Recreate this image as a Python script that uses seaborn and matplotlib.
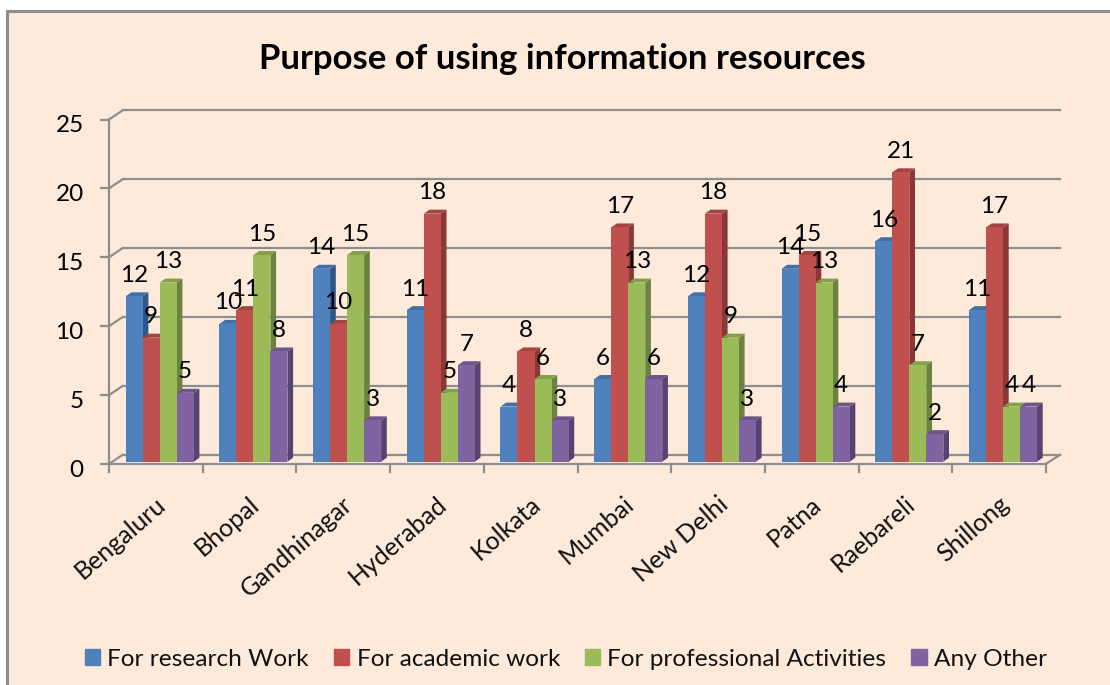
import pandas as pd
import seaborn as sns
import matplotlib.pyplot as plt
from matplotlib.patches import Patch, Polygon, Rectangle
from matplotlib.transforms import Affine2D

cities = ['Bengaluru', 'Bhopal', 'Gandhinagar', 'Hyderabad', 'Kolkata',
          'Mumbai', 'New Delhi', 'Patna', 'Raebareli', 'Shillong']
research = [12, 10, 14, 11, 4, 6, 12, 14, 16, 11]
academic = [9, 11, 10, 18, 8, 17, 18, 15, 21, 17]
professional = [13, 15, 15, 5, 6, 13, 9, 13, 7, 4]
other = [5, 8, 3, 7, 3, 6, 3, 4, 2, 4]
series_names = ['For research Work', 'For academic work', 'For professional Activities', 'Any Other']
y_ticks = [0, 5, 10, 15, 20, 25]

front_cols = ['#4F81BD', '#C0504D', '#9BBB59', '#8064A2']
side_cols = ['#2F5688', '#8A3735', '#6B8240', '#57436F']
top_cols = ['#416FA6', '#A44442', '#84A04B', '#6D5589']
grid_col = '#8E8E8E'
bg_col = '#FDEADA'

W, H = 1110, 685

sns.set_style('white')
plt.rcParams['font.family'] = ['Lato', 'DejaVu Sans']

df = pd.DataFrame({'city': cities * 4,
                   'count': research + academic + professional + other,
                   'purpose': [n for n in series_names for _ in cities]})

fig = plt.figure(figsize=(W / 100, H / 100), dpi=100, facecolor='white')
fig.add_artist(Rectangle((7 / W, -0.02), 1.05, 1 - 11 / H + 0.02, transform=fig.transFigure,
                         facecolor=bg_col, edgecolor=grid_col, linewidth=2.2, zorder=-5))

# axes placed so that group centres and the bar baseline land where they do in the chart
ax = fig.add_axes([112.85 / W, (H - 461.7) / H, 937 / W, 344.5 / H])
ax.patch.set_alpha(0)

sns.barplot(data=df, x='city', y='count', hue='purpose', hue_order=series_names,
            palette=front_cols, saturation=1, width=0.726, gap=0, legend=False, ax=ax)
ax.set_xlim(-0.5, 9.5)
ax.set_ylim(0, 25)
ax.set_xlabel('')
ax.set_ylabel('')
sns.despine(ax=ax, left=True, bottom=True)

# fake 3d wall, floor and ticks
unit_x = 93.7
px_x = lambda v: -0.5 + (v - 112.85) / unit_x
back_tr = ax.transData + Affine2D().translate(0, 6.9)
front_tr = ax.transData + Affine2D().translate(0, -2.3)
line_kw = dict(color=grid_col, lw=1.6, clip_on=False, solid_capstyle='projecting', zorder=1)
x0, x1, x2, x3 = px_x(109), px_x(122.7), px_x(1045.7), px_x(1060)
for t in y_ticks:
    ax.plot([x1, x3], [t, t], transform=back_tr, **line_kw)
    p0 = front_tr.transform((x0, t))
    p1 = back_tr.transform((x1, t))
    ax.plot([p0[0], p1[0]], [p0[1], p1[1]], transform=None, **line_kw)
    ax.plot([p0[0] - 8, p0[0]], [p0[1], p0[1]], transform=None, **line_kw)
ax.plot([x0, x0], [0, 25], transform=front_tr, **line_kw)
ax.plot([x0, x2], [0, 0], transform=front_tr, **line_kw)
p0 = front_tr.transform((x2, 0))
p1 = back_tr.transform((x3, 0))
ax.plot([p0[0], p1[0]], [p0[1], p1[1]], transform=None, **line_kw)
for i in range(len(cities) + 1):
    p = front_tr.transform((x0 + i, 0))
    ax.plot([p[0], p[0]], [p[1], p[1] - 8], transform=None, **line_kw)

# side and top faces of each bar
dx, dy = 5.7 / unit_x, 4 / 13.78
for k, cont in enumerate(ax.containers):
    for bar in cont:
        x, w, h = bar.get_x(), bar.get_width(), bar.get_height()
        bar.set_zorder(3 + 2 * k + 1)
        bar.set_linewidth(0)
        ax.add_patch(Polygon([(x + w, 0), (x + w + dx, dy), (x + w + dx, h + dy), (x + w, h)],
                             facecolor=side_cols[k], edgecolor='none', zorder=3 + 2 * k, clip_on=False))
        ax.add_patch(Polygon([(x, h), (x + dx, h + dy), (x + w + dx, h + dy), (x + w, h)],
                             facecolor=top_cols[k], edgecolor='none', zorder=3 + 2 * k, clip_on=False))
    for t in ax.bar_label(cont, padding=7.5, fontsize=17.5, color='black'):
        t.set_zorder(20)

ax.set_yticks(y_ticks)
ax.set_yticklabels(y_ticks, fontsize=17.5, color='black')
ax.set_xticks(range(len(cities)))
ax.set_xticklabels(cities, fontsize=18, color='#111111', rotation=41, ha='right', rotation_mode='anchor')
ax.tick_params(axis='y', length=0, pad=21)
ax.tick_params(axis='x', length=0, pad=22)
for t in ax.get_yticklabels():
    t.set_transform(t.get_transform() + Affine2D().translate(0, -6.5))
for t in ax.get_xticklabels():
    t.set_transform(t.get_transform() + Affine2D().translate(-5, 0))

ax.set_title('Purpose of using information resources', fontsize=25, fontweight='bold',
             color='black', x=(562 - 112.85) / 937, y=1.146, va='center')

handles = [Patch(color=c, label=n) for c, n in zip(front_cols, series_names)]
fig.legend(handles=handles, ncol=4, loc='center', bbox_to_anchor=(566 / W, (H - 659) / H),
           frameon=False, fontsize=17.6, handlelength=0.62, handleheight=0.62, handletextpad=0.3,
           columnspacing=1.02, borderpad=0, labelcolor='#111111')

fig.savefig('out.png', dpi=100)
